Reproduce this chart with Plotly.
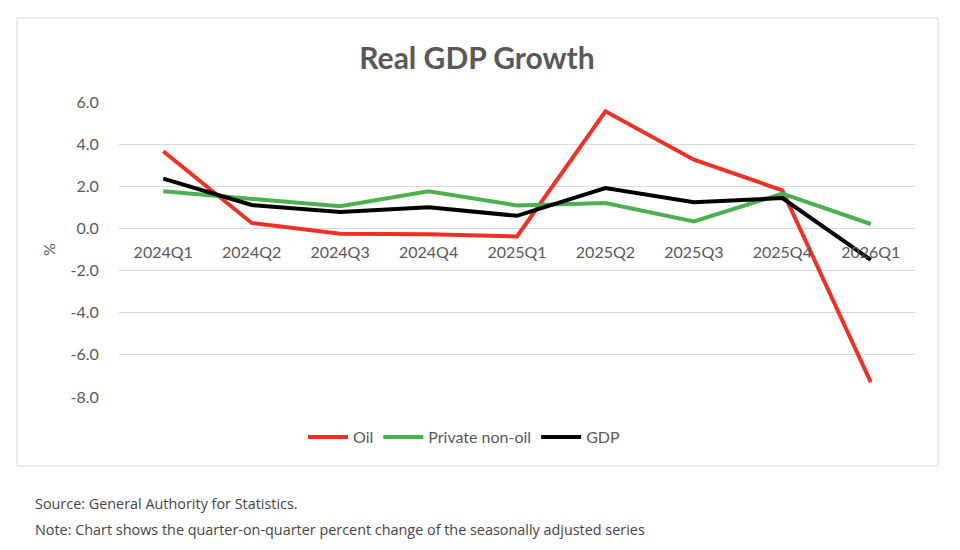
import plotly.graph_objects as go

quarters = ["2024Q1", "2024Q2", "2024Q3", "2024Q4", "2025Q1", "2025Q2", "2025Q3", "2025Q4", "2026Q1"]
oil = [3.66, 0.26, -0.25, -0.28, -0.38, 5.56, 3.26, 1.81, -7.30]
private_non_oil = [1.76, 1.41, 1.05, 1.76, 1.09, 1.21, 0.33, 1.65, 0.21]
gdp = [2.36, 1.11, 0.78, 1.00, 0.60, 1.92, 1.24, 1.44, -1.49]
y_ticks = [-8, -6, -4, -2, 0, 2, 4, 6]
y_tick_text = ["-8.0", "-6.0", "-4.0", "-2.0", "0.0", "2.0", "4.0", "6.0"]

W, H = 960, 550
L, R, T, B = 119, 45, 102, 153
pw, ph = W - L - R, H - T - B
ymin, ymax = -8, 6

def px(x):
    return (x - L) / pw

def py(y):
    return (H - B - y) / ph

chart_font = "Lato, 'Open Sans', sans-serif"
gray = "#595959"

fig = go.Figure()
series = [("Oil", oil, "#EE3124"), ("Private non-oil", private_non_oil, "#4CAF50"), ("GDP", gdp, "#000000")]
for name, vals, col in series:
    fig.add_trace(go.Scatter(x=quarters, y=vals, name=name, mode="lines",
                             line=dict(color=col, width=4)))

fig.update_layout(
    width=W, height=H,
    margin=dict(l=L, r=R, t=T, b=B, autoexpand=False),
    paper_bgcolor="white", plot_bgcolor="white",
    font=dict(family=chart_font, color=gray, size=16),
    title=dict(text="<b>Real GDP Growth</b>", x=px(477), xref="paper", xanchor="center",
               y=1 - 58 / H, yanchor="middle", font=dict(size=30, color=gray, family=chart_font)),
    showlegend=True,
    legend=dict(orientation="h", x=px(303), xanchor="left", y=py(437), yanchor="middle",
                font=dict(size=16, color=gray, family=chart_font), itemwidth=40,
                bgcolor="rgba(0,0,0,0)", tracegroupgap=0),
    xaxis=dict(range=[-0.5, 8.5], showgrid=False, zeroline=False, showline=False,
               anchor="free", position=(0 - ymin) / (ymax - ymin),
               ticks="outside", ticklen=9, tickcolor="rgba(0,0,0,0)",
               tickfont=dict(size=16, color=gray, family=chart_font)),
    yaxis=dict(range=[ymin, ymax], tickvals=y_ticks, ticktext=y_tick_text,
               showgrid=True, gridcolor="#D9D9D9", gridwidth=1, zeroline=False, showline=False,
               ticks="outside", ticklen=16, tickcolor="rgba(0,0,0,0)",
               tickfont=dict(size=16, color=gray, family=chart_font),
               title=dict(text="%", standoff=10, font=dict(size=16, color=gray, family=chart_font))),
)

# chart frame
fig.add_shape(type="rect", xref="paper", yref="paper",
              x0=px(17), x1=px(938), y0=py(466), y1=py(18),
              line=dict(color="#D9D9D9", width=1), fillcolor="rgba(0,0,0,0)", layer="below")

notes = ["Source: General Authority for Statistics.",
         "Note: Chart shows the quarter-on-quarter percent change of the seasonally adjusted series"]
for i, t in enumerate(notes):
    fig.add_annotation(text=t, xref="paper", yref="paper", x=px(33), y=py(503 + 26 * i),
                       xanchor="left", yanchor="middle", showarrow=False,
                       font=dict(family="'Open Sans', sans-serif", size=14.4, color="#444444"))

fig.write_html("out.html")
